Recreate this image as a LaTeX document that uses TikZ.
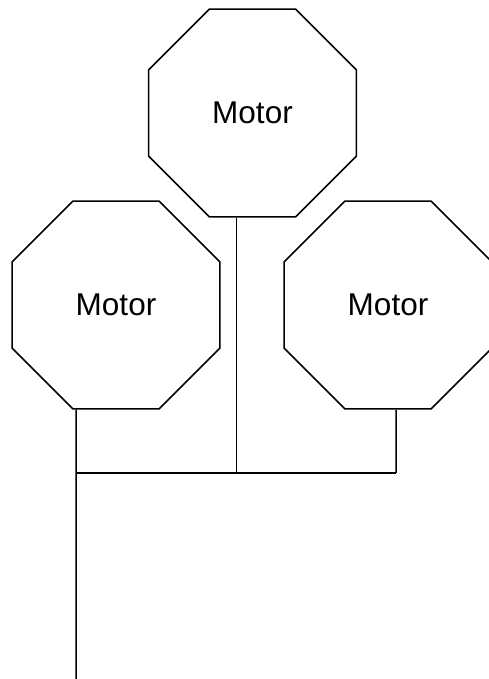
\documentclass[tikz,border=0pt]{standalone}
\usepackage{fontspec}
\setmainfont{Liberation Sans}
\usetikzlibrary{shapes.geometric}

\tikzset{
  motor/.style={regular polygon, regular polygon sides=8, draw=black, line width=1.5pt,
    minimum size=225pt, inner sep=0pt, font=\fontsize{31.5}{38}\selectfont},
  wire/.style={draw=black, line width=1.5pt}
}

\begin{document}
\begin{tikzpicture}[x=1pt,y=1pt]
\useasboundingbox (0,0) rectangle (488,679);
\node[motor] (mTop) at (252.5,566) {Motor};
\node[motor] (mLeft) at (116,374) {Motor};
\node[motor] (mRight) at (388,374) {Motor};

\coordinate (busL) at (76,206);
\coordinate (busR) at (396,206);
\coordinate (feed) at (76,0);

\draw[wire] (busL) -- (busR);
\draw[wire] ([xshift=-40pt]mLeft.south) -- (feed);
\draw[wire] ([xshift=8pt]mRight.south) -- (busR);
\draw[wire] ([xshift=-15.8pt]mTop.south) -- ([xshift=-15.8pt]mTop.south |- busL);

\end{tikzpicture}
\end{document}
